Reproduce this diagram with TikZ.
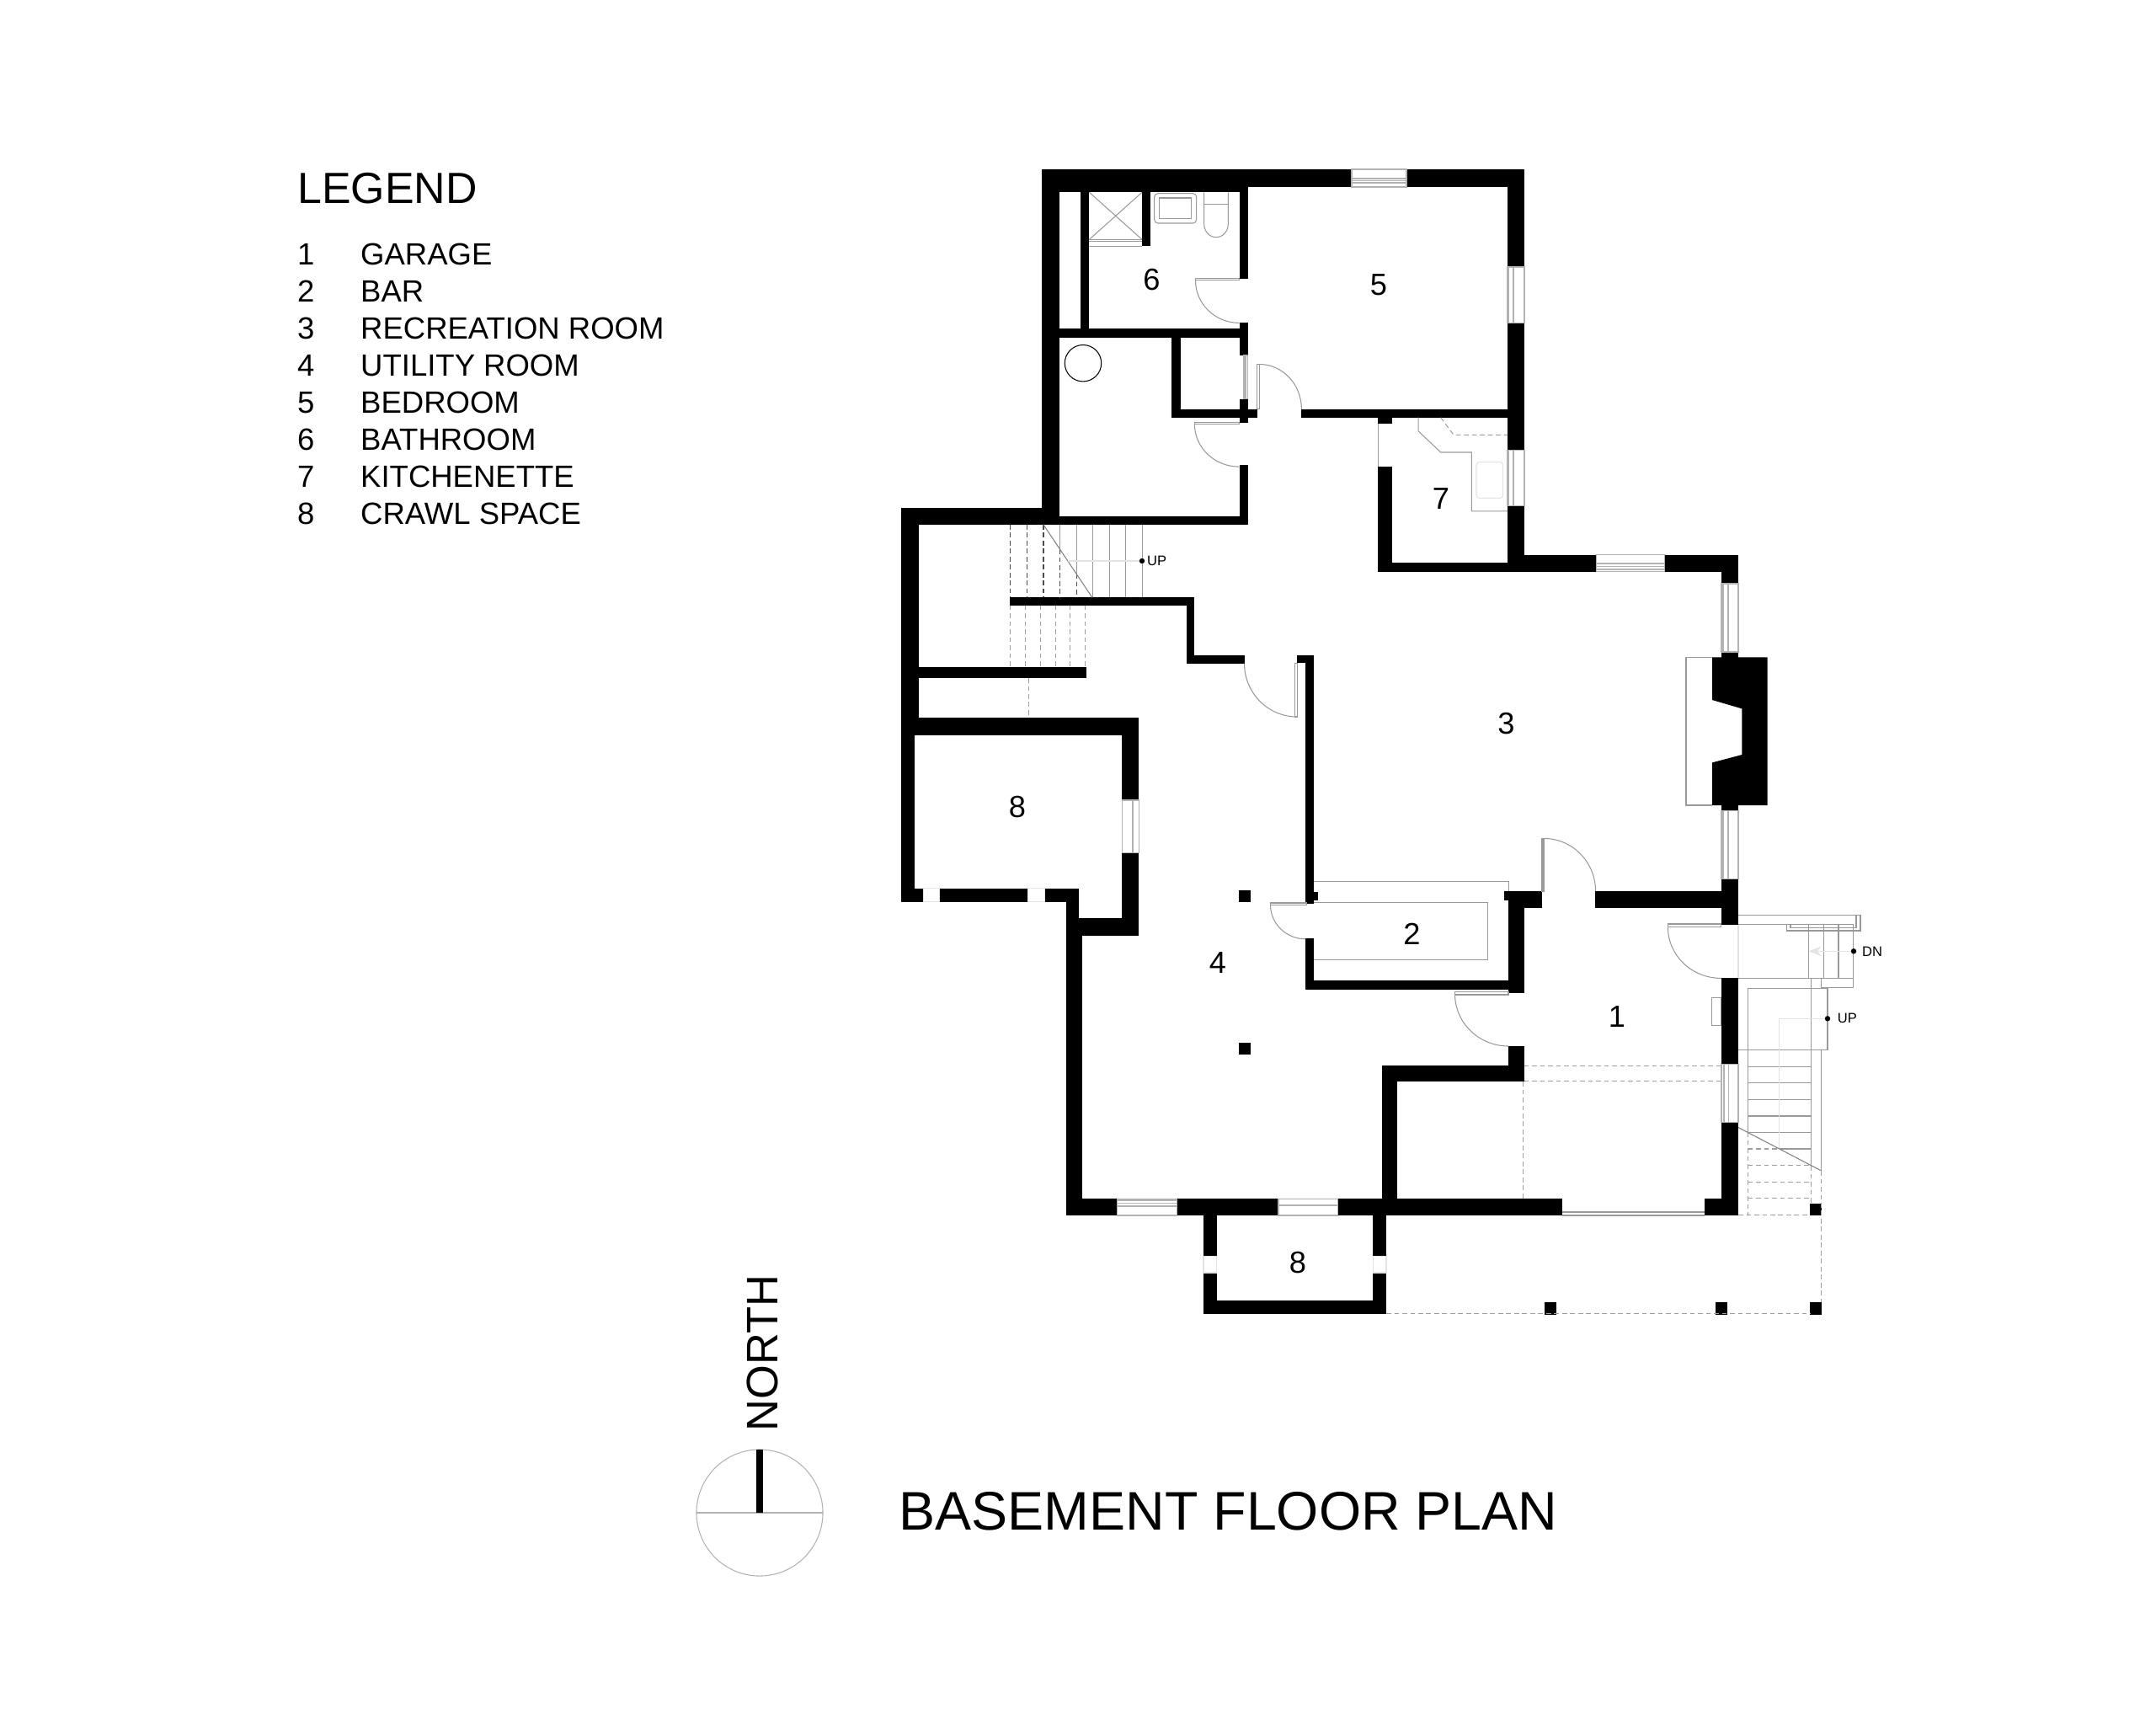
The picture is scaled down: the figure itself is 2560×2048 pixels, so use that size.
\documentclass[tikz,border=0pt]{standalone}
\usepackage{fontspec}
\setmainfont{Liberation Sans}
\usetikzlibrary{arrows.meta}

\begin{document}
\begin{tikzpicture}[
x=0.01cm, y=-0.01cm,
>=Stealth,
wall/.style = {fill=black},
glass/.style = {draw=gray!60, line width=0.3pt},
thin line/.style = {draw=gray!80, line width=0.3pt},
faint line/.style = {draw=gray!22, line width=0.3pt},
over line/.style = {draw=gray!75, line width=0.3pt, dash pattern=on 1.6pt off 1.1pt},
room label/.style = {inner sep=0pt, font=\fontsize{10.3}{12}\selectfont},
legend text/.style = {anchor=base west, inner sep=0pt, font=\fontsize{10.38}{12}\selectfont},
small label/.style = {anchor=west, inner sep=0pt, font=\fontsize{4.7}{5}\selectfont},
]
\useasboundingbox (0,0) rectangle (2560,2048);

% walls
\foreach \xa/\ya/\xb/\yb in {
1237/201/1605/222, 1237/201/1482/228.3, 1670/201/1810/222,
1237/201/1258/623, 1282.7/228/1293.4/390, 1237/389.6/1482/400.7,
1471.5/228/1481.8/331.4, 1471.5/383/1481.8/422, 1471.5/473.6/1481.8/502, 1471.5/552/1481.8/623,
1237/613.2/1481.8/623, 1356/228/1366/292.4,
1391.3/400/1402/495.7, 1391.3/485.7/1493.4/495.7, 1545.4/485.7/1810/495.7,
1790/201/1810/317, 1790/383.6/1810/534.3, 1790/600.7/1810/678.6,
1636/495/1652.6/502.5, 1636/554.3/1652.6/678.6, 1636/668.2/1810/678.6,
1790/658.6/1895.8/678.6, 1976.2/658.6/2064/678.6, 2044/658.6/2064/693,
2044/774/2064/831, 2044/906/2064/962.5, 2044/1043.6/2064/1098, 1893.7/1058.2/2064/1078,
1786/1058.2/1831/1068.6, 1790.6/1058.2/1831/1078, 1790.6/1058.2/1809.6/1179.4,
1550.3/1163.9/1791/1174.6, 1550.3/1113.9/1560.4/1174.6,
1550.3/777.5/1560.4/1073.2, 1539.8/777.5/1560.4/787.3, 1560/1058.6/1565.4/1068.6,
1199/709.3/1417.8/718.6, 1408.6/709.3/1417.8/787.5, 1408.6/777.9/1477.5/787.5,
1070/602.8/1238/622.9, 1070/602.8/1090.6/873, 1090/791.8/1289.6/805,
1070/852/1352.3/872.5, 1070/852/1085.6/1070.7, 1070/1054.6/1096.3/1070.7,
1115.8/1054.6/1220.3/1070.7, 1240.2/1054.6/1280.8/1070.7, 1265.5/1054.6/1280.8/1111,
1265.5/1090.4/1352.3/1110.7, 1332.4/852/1352.3/950, 1332.4/1012.5/1352.3/1110.7,
1265.5/1090.4/1285.4/1443, 1265.5/1423.2/1326.8/1443, 1397.3/1423.2/1518/1443,
1588.4/1423.2/1855.4/1443, 1429/1442/1444.6/1491.4, 1429/1511/1444.6/1560.4,
1630.4/1442/1646/1491.4, 1630.4/1511/1646/1560.4, 1429/1544.3/1646/1560.4,
1640.6/1265/1659.4/1443, 1640.6/1265/1809.6/1284, 1791/1241.8/1809.6/1284,
2043.6/1161.4/2064/1263.2, 2043.6/1332.9/2064/1443.2, 2023.9/1423/2064/1443.2,
1471.4/1056.8/1485.3/1071, 1471.4/1238.2/1485.3/1252.1,
1834.3/1546.4/1848.2/1560.7, 2037.1/1546.4/2050.7/1560.7,
2149.3/1546.4/2163.2/1560.7, 2149.3/1429/2163.2/1443
}
  \fill[wall] (\xa,\ya) rectangle (\xb,\yb);

% fireplace
\fill[wall] (2033,780.4) -- (2098.7,780.4) -- (2098.7,956) -- (2033,956) -- (2033,905.4)
  -- (2068.4,896) -- (2068.4,841.4) -- (2033,831) -- cycle;
\draw[thin line] (2033,780.4) -- (2002,780.4) -- (2002,956) -- (2033,956);

% windows
\foreach \xa/\ya/\xb/\yb/\la/\lb in {
1605/201/1670/222/212/217, 1895.8/658.6/1976.2/678.6/669/676,
1326.8/1423.2/1397.3/1443/1425/1432, 1518/1423.2/1588.4/1443/1431/1431.5}
{
  \draw[glass] (\xa,\ya) rectangle (\xb,\yb);
  \draw[glass] (\xa,\la) -- (\xb,\la) (\xa,\lb) -- (\xb,\lb);
  \draw[glass] (\xa,{(\la+\lb)/2}) -- (\xb,{(\la+\lb)/2});
}
\foreach \ya/\yb/\xa/\xb/\la/\lb in {
317/383.6/1790/1810/1791.5/1797, 534.3/600.7/1790/1810/1791.5/1797,
693/774/2044/2064/2046/2052, 962.5/1043.6/2044/2064/2046/2052,
1263.2/1332.9/2044/2064/2047/2052.5, 950/1012.5/1332.4/1352.3/1344.7/1345,
422/473.6/1477/1481.8/1477.6/1479}
{
  \draw[glass] (\xa,\ya) rectangle (\xb,\yb);
  \draw[glass] (\la,\ya) -- (\la,\yb) (\lb,\ya) -- (\lb,\yb);
}
\foreach \xa/\ya/\xb/\yb in {
1096.3/1054.6/1115.8/1070.7, 1220.3/1054.6/1240.2/1070.7,
1429/1491.4/1444.6/1511, 1630.4/1491.4/1646/1511}
  \draw[faint line] (\xa,\ya) rectangle (\xb,\yb);

% doors
\foreach \xa/\ya/\xb/\yb/\ax/\ay/\sa/\ea/\ra/\rb in {
1419.5/330.4/1471.5/332.9/1419.5/332.9/180/90/52/50.5,
1492.9/432.5/1495.4/485.7/1495.4/432.5/-90/0/50/53.2,
1418.4/501.4/1471.5/503.6/1418.4/503.6/180/90/53/50.5,
1537.6/787.5/1540.6/851/1477.5/787.5/180/90/62.5/63.5,
1508.5/1072/1551.3/1074.3/1508.5/1074.3/180/90/41.8/40.5,
1831/995.4/1833/1058.2/1833/995.4/-90/0/61.6/62.8,
1727.5/1177.5/1791/1181/1727.5/1180/180/90/63.5/62,
1980.4/1097/2043.6/1100.7/1980.4/1100.7/180/90/63.2/60.7}
{
  \draw[thin line] (\xa,\ya) rectangle (\xb,\yb);
  \draw[thin line] (\ax,\ay) arc[start angle=\sa, end angle=\ea, x radius=\ra, y radius=\rb];
}

% bathroom fixtures
\draw[thin line] (1293.4,228.3) -- (1356,284.3) (1356,228.3) -- (1293.4,284.3);
\draw[thin line] (1293.4,284.3) -- (1356,284.3) (1293.4,286.5) -- (1356,286.5) (1293.4,292.4) -- (1356,292.4);
\draw[thin line, rounded corners=1.2pt] (1370.7,229.7) rectangle (1420.7,265);
\draw[thin line] (1376.7,235) rectangle (1414.7,259.7);
\draw[thin line] (1429.7,228.3) -- (1429.7,266) arc[start angle=180, end angle=0, x radius=14.3, y radius=15.7] -- (1458.3,228.3);
\draw[thin line] (1429.7,242.3) -- (1458.3,242.3);
\draw[line width=0.3pt] (1286,431.2) circle[radius=21.7];

% kitchenette
\draw[thin line] (1684.2,495.7) -- (1684.2,512) -- (1710.7,537) -- (1747.4,537) -- (1747.4,606.8) -- (1790,606.8);
\draw[over line] (1710.7,495.7) -- (1726,516.4) -- (1790,516.4);
\draw[faint line, rounded corners=1pt] (1753,548.6) rectangle (1784.7,591.4);
\draw[thin line] (1636.7,502.5) -- (1636.7,554.3);

% bar counter
\draw[thin line] (1560.4,1046.4) -- (1791.4,1046.4) -- (1791.4,1058.2);
\draw[thin line] (1560.4,1071.4) -- (1766.6,1071.4) -- (1766.6,1139.3) -- (1560.4,1139.3);

% inside stair
\foreach \xa in {1199.6,1219.2,1239}
  \draw[over line, draw=black!70] (\xa,622.9) -- (\xa,709.3);
\draw[over line, draw=black!70] (1258.6,652) -- (1258.6,709.3) (1278.1,681) -- (1278.1,709.3);
\draw[thin line] (1258.6,622.9) -- (1258.6,652) (1278.1,622.9) -- (1278.1,681);
\foreach \xa in {1297.6,1317.1,1336.6,1356.2}
  \draw[thin line] (\xa,622.9) -- (\xa,709.3);
\draw[line width=0.3pt, draw=gray] (1239,622.9) -- (1296.8,709.3);
\foreach \xa in {1199.6,1217.6,1235.6,1253.2,1270.8,1288.8}
  \draw[over line] (\xa,718.6) -- (\xa,791.8);
\draw[over line] (1221.8,805) -- (1221.8,852);
\draw[faint line] (1268,666) -- (1356,666);

% garage overhead
\draw[over line] (1809.6,1265.4) -- (2044,1265.4) (1809.6,1283.2) -- (2044,1283.2);
\draw[over line] (1808.6,1284) -- (1808.6,1423);
\draw[thin line] (1855.4,1439) -- (2023.9,1439) (1855.4,1443) -- (2023.9,1443);
\draw[thin line] (2032.1,1184.6) rectangle (2043.6,1217.5);

% entry steps
\draw[faint line] (2064,1098) -- (2064,1161.4);
\draw[thin line] (2064,1086.7) -- (2200.7,1086.7) (2064,1097.3) -- (2200.7,1097.3);
\draw[thin line] (2200.7,1086.7) -- (2209,1086.7) -- (2209,1105) -- (2121.7,1105) -- (2121.7,1097.3);
\draw[thin line] (2204,1086.7) -- (2204,1101.3) -- (2126,1101.3) -- (2126,1097.3);
\foreach \xa in {2147.3,2165.3,2183,2200.7}
  \draw[thin line] (\xa,1097.3) -- (\xa,1161.7);
\draw[thin line] (2064,1161.7) -- (2200.7,1161.7) (2200.7,1161.7) -- (2200.7,1172.3) -- (2162.3,1172.3);
\draw[thin line] (2162.3,1161.7) -- (2162.3,1173.3);
\draw[thin line] (2075.7,1344.3) -- (2075.7,1173.3) -- (2170,1173.3) -- (2170,1246.7) -- (2064,1246.7);
\draw[thin line] (2150.4,1161.7) -- (2150.4,1384);
\draw[thin line] (2162.7,1246.7) -- (2162.7,1390);
\foreach \ya in {1266.4,1285.7,1305.4,1325,1344.3}
  \draw[thin line] (2075.7,\ya) -- (2150.4,\ya);
\draw[thin line] (2113,1364) -- (2150.4,1364);
\draw[line width=0.3pt, draw=gray] (2064,1338.6) -- (2162.7,1390);
\draw[over line] (2075.7,1344.3) -- (2075.7,1442.5);
\draw[over line] (2075.7,1364) -- (2113,1364);
\foreach \ya in {1383.6,1403.2,1422.5}
  \draw[over line] (2075.7,\ya) -- (2150.4,\ya);
\draw[over line] (2150.4,1384) -- (2150.4,1429);
\draw[over line] (2064,1442.5) -- (2149.3,1442.5);
\draw[over line] (2162.7,1390) -- (2162.7,1546.4);
\draw[over line] (1646,1559.6) -- (2149.3,1559.6);
\draw[faint line] (2170,1209.3) -- (2112.7,1209.3) -- (2112.7,1363);
\draw[faint line, ->] (2200.7,1129.3) -- (2147.3,1129.3);

% up and down marks
\coordinate (stairA) at (1356,666);
\coordinate (stairB) at (2170,1209.3);
\coordinate (stairC) at (2201,1129.3);
\fill (stairA) circle[radius=3.2];
\fill (stairB) circle[radius=3.2];
\fill (stairC) circle[radius=3.2];
\node (upA) [small label] at (1361.5,666) {UP};
\node (upB) [small label] at (2181.2,1209.3) {UP};
\node (dnC) [small label] at (2210.5,1129.3) {DN};

% room numbers
\node (R1) [room label] at (1920,1207) {1};
\node (R2) [room label] at (1676.5,1108.6) {2};
\node (R3) [room label] at (1788.5,858.6) {3};
\node (R4) [room label] at (1446,1143) {4};
\node (R5) [room label] at (1637,338) {5};
\node (R6) [room label] at (1367.5,332) {6};
\node (R7) [room label] at (1711,592.5) {7};
\node (R8a) [room label] at (1208,958) {8};
\node (R8b) [room label] at (1541,1499) {8};

% legend
\node (legend) [anchor=base west, inner sep=0pt, font=\fontsize{14.75}{16}\selectfont] at (352.5,241.7) {LEGEND};
\foreach \n/\word/\ya in {
1/GARAGE/314, 2/BAR/358.1, 3/RECREATION ROOM/402.2, 4/UTILITY ROOM/446.3,
5/BEDROOM/490.4, 6/BATHROOM/534.5, 7/KITCHENETTE/578.6, 8/CRAWL SPACE/622.7}
{
  \node (num\n) [legend text] at (352.5,\ya) {\n};
  \node (item\n) [legend text] at (427.5,\ya) {\word};
}

% north mark and title
\node (compass) [draw=gray!60, line width=0.3pt, circle, inner sep=0pt, outer sep=0pt, minimum size=1.5cm] at (902,1796) {};
\draw[draw=gray!60, line width=0.5pt] (compass.west) -- (compass.east);
\draw[line width=2.1pt] (compass.north) -- (compass.center);
\node (north) [rotate=90, anchor=base west, inner sep=0pt, font=\fontsize{14.9}{16}\selectfont] at (923,1700) {NORTH};
\node (title) [anchor=base west, inner sep=0pt, font=\fontsize{18.35}{20}\selectfont] at (1067,1816) {BASEMENT FLOOR PLAN};

\end{tikzpicture}
\end{document}
